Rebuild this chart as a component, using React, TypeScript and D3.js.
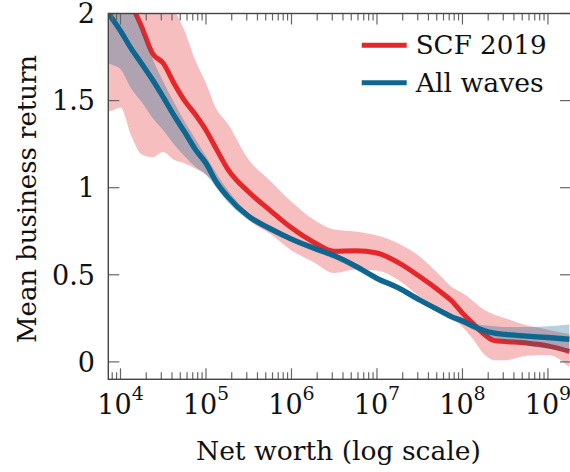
import * as d3 from "d3";

const W = 570;
const H = 472;
const M = { left: 108.3, right: 571, top: 13.5, bottom: 379.3 };

// net worth grid (dollars)
const netWorth = [
  5.62e3, 7.5e3, 1e4, 1.33e4, 1.78e4, 2.37e4, 3.16e4, 4.22e4, 5.62e4, 7.5e4,
  1e5, 1.33e5, 1.78e5, 3.16e5, 5.62e5, 1e6, 1.78e6, 3.16e6, 5.62e6, 1e7,
  1.78e7, 3.16e7, 5.62e7, 7.5e7, 1e8, 1.33e8, 1.78e8, 2.37e8, 3.16e8, 5.62e8,
  1e9, 1.78e9,
];

// SCF 2019
const scfMean = [
  2.55, 2.4, 2.22, 2.06, 1.92, 1.77, 1.715, 1.6, 1.5, 1.42, 1.33, 1.22, 1.11,
  0.975, 0.87, 0.77, 0.69, 0.635, 0.638, 0.625, 0.57, 0.49, 0.4, 0.35, 0.28,
  0.22, 0.16, 0.122, 0.117, 0.108, 0.092, 0.06,
];
const scfHigh = [
  2.9, 2.8, 2.6, 2.45, 2.3, 2.15, 2.07, 2.02, 1.9, 1.73, 1.6, 1.45, 1.37, 1.16,
  1.04, 0.92, 0.82, 0.76, 0.748, 0.725, 0.68, 0.605, 0.49, 0.43, 0.395, 0.35,
  0.3, 0.27, 0.25, 0.21, 0.185, 0.16,
];
const scfLow = [
  1.45, 1.44, 1.46, 1.3, 1.19, 1.175, 1.205, 1.16, 1.14, 1.11, 1.075, 1.02,
  0.97, 0.815, 0.735, 0.64, 0.575, 0.51, 0.53, 0.525, 0.47, 0.375, 0.29, 0.25,
  0.2, 0.13, 0.045, 0.01, 0.01, 0.035, 0.04, -0.03,
];

// All waves
const allMean = [
  2.08, 1.99, 1.9, 1.8, 1.71, 1.62, 1.52, 1.415, 1.32, 1.22, 1.14, 1.03, 0.95,
  0.835, 0.765, 0.705, 0.655, 0.61, 0.55, 0.48, 0.425, 0.355, 0.29, 0.258,
  0.235, 0.205, 0.18, 0.165, 0.158, 0.148, 0.14, 0.13,
];
const allHigh = [
  2.3, 2.22, 2.12, 2.03, 1.9, 1.74, 1.61, 1.49, 1.38, 1.28, 1.18, 1.08, 0.99,
  0.855, 0.785, 0.722, 0.672, 0.625, 0.565, 0.495, 0.44, 0.372, 0.305, 0.275,
  0.255, 0.225, 0.21, 0.205, 0.2, 0.2, 0.205, 0.215,
];
const allLow = [
  1.74, 1.71, 1.68, 1.57, 1.49, 1.4, 1.33, 1.25, 1.18, 1.12, 1.075, 1.0, 0.92,
  0.815, 0.745, 0.688, 0.638, 0.59, 0.53, 0.46, 0.41, 0.34, 0.275, 0.24, 0.215,
  0.185, 0.155, 0.135, 0.12, 0.095, 0.075, 0.055,
];

const yTicks = [0, 0.5, 1, 1.5, 2];
const seriesNames = ["SCF 2019", "All waves"];
const RED = "#e3282b";
const BLUE = "#0e6791";
const FONT = "'DejaVu Serif', 'Liberation Serif', serif";

const x = d3.scaleLog().domain([7.2e3, 1.86e9]).range([M.left, M.right]);
const y = d3.scaleLinear().domain([-0.1, 2]).range([M.bottom, M.top]);

const line = (vals: number[]) =>
  d3
    .line<number>()
    .x((_, i) => x(netWorth[i]))
    .y((d) => y(d))
    .curve(d3.curveMonotoneX)(vals) || "";

const band = (lo: number[], hi: number[]) =>
  d3
    .area<number>()
    .x((_, i) => x(netWorth[i]))
    .y0((_, i) => y(lo[i]))
    .y1((_, i) => y(hi[i]))
    .curve(d3.curveMonotoneX)(netWorth) || "";

export default function App() {
  const xt = x.ticks();
  const isMajor = (t: number) => Math.abs(Math.log10(t) - Math.round(Math.log10(t))) < 1e-9;
  const txt = { fontFamily: FONT, fill: "#111" };

  return (
    <svg
      width={W}
      height={H}
      style={{ position: "absolute", left: 0, top: 0, background: "#fff", fontFamily: FONT }}
    >
      <defs>
        <clipPath id="plot">
          <rect x={M.left} y={M.top} width={M.right - M.left} height={M.bottom - M.top} />
        </clipPath>
      </defs>

      <g clipPath="url(#plot)">
        <path d={band(scfLow, scfHigh)} fill={RED} fillOpacity={0.3} />
        <path d={line(scfMean)} fill="none" stroke={RED} strokeWidth={5} />
        <path d={band(allLow, allHigh)} fill={BLUE} fillOpacity={0.3} />
        <path d={line(allMean)} fill="none" stroke={BLUE} strokeWidth={5.3} />
      </g>

      {/* x ticks, bottom and top */}
      {xt.map((t, i) => {
        const len = isMajor(t) ? 11 : 7;
        const px = x(t);
        return (
          <g key={"xt" + i} stroke="#666" strokeWidth={1.2}>
            <line x1={px} x2={px} y1={M.bottom} y2={M.bottom - len} />
            <line x1={px} x2={px} y1={M.top} y2={M.top + len} />
          </g>
        );
      })}
      {xt.filter(isMajor).map((t, i) => (
        <text key={"xl" + i} x={x(t)} y={413.5} textAnchor="middle" fontSize={27} style={txt}>
          <tspan>10</tspan>
          <tspan dy={-14} fontSize={19}>
            {Math.round(Math.log10(t))}
          </tspan>
        </text>
      ))}

      {/* y ticks, left and right */}
      {yTicks.map((t, i) => (
        <g key={"yt" + i}>
          <line x1={M.left} x2={M.left + 11} y1={y(t)} y2={y(t)} stroke="#666" strokeWidth={1.2} />
          <line x1={M.right} x2={M.right - 11} y1={y(t)} y2={y(t)} stroke="#666" strokeWidth={1.2} />
          <text x={95} y={y(t)} dy="0.36em" textAnchor="end" fontSize={27} style={txt}>
            {d3.format("~g")(t)}
          </text>
        </g>
      ))}

      {/* frame */}
      <rect
        x={M.left}
        y={M.top}
        width={M.right - M.left}
        height={M.bottom - M.top}
        fill="none"
        stroke="#444"
        strokeWidth={1.4}
      />

      {/* axis titles */}
      <text x={338.4} y={460} textAnchor="middle" fontSize={26} style={txt} textLength={285} lengthAdjust="spacingAndGlyphs">
        Net worth (log scale)
      </text>
      <text
        transform="translate(36,199) rotate(-90)"
        textAnchor="middle"
        fontSize={26}
        style={txt}
        textLength={288}
        lengthAdjust="spacingAndGlyphs"
      >
        Mean business return
      </text>

      {/* legend */}
      {seriesNames.map((name, i) => {
        const ly = i === 0 ? 45.3 : 82.7;
        return (
          <g key={name}>
            <line x1={361.7} x2={406.7} y1={ly} y2={ly} stroke={i === 0 ? RED : BLUE} strokeWidth={5} />
            <text x={415.7} y={ly + 9} fontSize={26} style={txt} textLength={i === 0 ? 131 : 128} lengthAdjust="spacingAndGlyphs">
              {name}
            </text>
          </g>
        );
      })}
    </svg>
  );
}
